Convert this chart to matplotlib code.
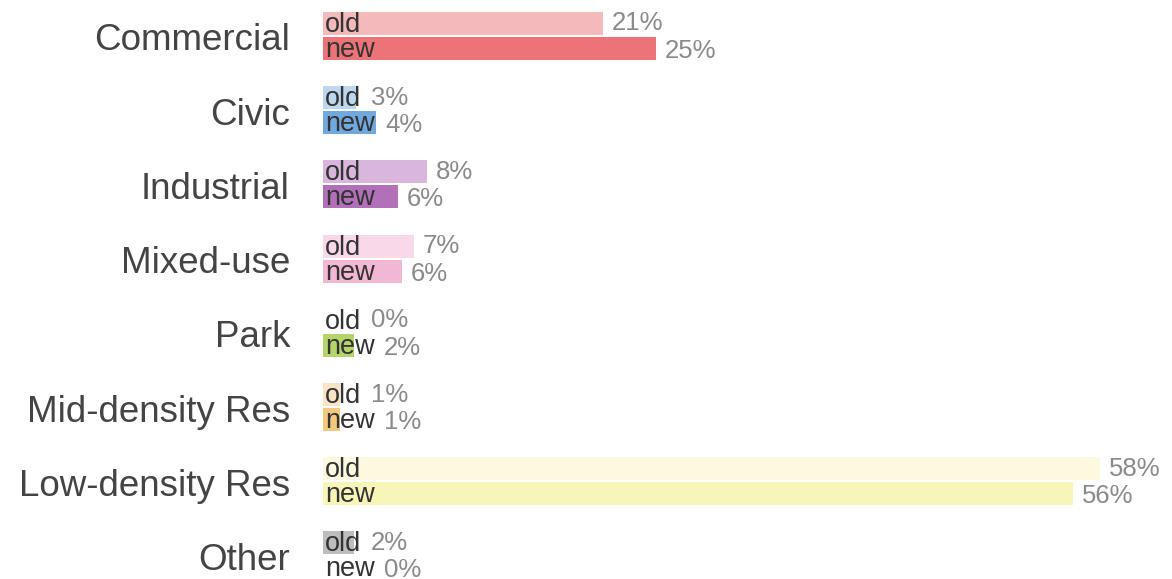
import matplotlib.pyplot as plt

# данные
categories = ['Commercial', 'Civic', 'Industrial', 'Mixed-use', 'Park',
              'Mid-density Res', 'Low-density Res', 'Other']
old_vals = [21.0, 2.5, 7.8, 6.8, 0.0, 1.3, 58.3, 2.3]
new_vals = [25.0, 4.0, 5.6, 5.9, 2.3, 1.3, 56.3, 0.0]
old_labels = ['21%', '3%', '8%', '7%', '0%', '1%', '58%', '2%']
new_labels = ['25%', '4%', '6%', '6%', '2%', '1%', '56%', '0%']
old_colors = ['#f4b9bb', '#bdd7ef', '#d9b7dd', '#f9d9e9', '#b6d46b', '#fbe4c6', '#fdf9e0', '#bdbdbd']
new_colors = ['#ec7377', '#70a9dd', '#b270b9', '#f2b7d3', '#b6d46b', '#f5c880', '#f8f5b8', '#bdbdbd']

px = 13.32   # пикселей на 1%
x0 = 323     # начало полос
W, H = 1172, 579

fig = plt.figure(figsize=(W / 100, H / 100), dpi=100)
ax = fig.add_axes([0, 0, 1, 1])
ax.set_xlim(-x0 / px, (W - x0) / px)
ax.set_ylim(H, 0)
ax.axis('off')

font = 'Liberation Sans'
row_step = 74.2
bar_h = 23
gap = 9 / px
old_text_end = (362 - x0) / px
new_text_end = (375 - x0) / px

for i, cat in enumerate(categories):
    c = 36 + row_step * i
    y_old = c - 12.5
    y_new = c + 12.5
    ax.barh(y_old, old_vals[i], height=bar_h, left=0, color=old_colors[i] if old_vals[i] > 0 else 'none')
    ax.barh(y_new, new_vals[i], height=bar_h, left=0, color=new_colors[i] if new_vals[i] > 0 else 'none')

    ax.text((290 - x0) / px, c + 5, cat, ha='right', va='center',
            fontsize=26.5, color='#444444', family=font)

    ax.text(0.15, y_old + 1.5, 'old', ha='left', va='center', fontsize=19.5, color='#333333', family=font)
    ax.text(0.15, y_new + 1.5, 'new', ha='left', va='center', fontsize=19.5, color='#333333', family=font)

    ax.text(max(old_vals[i], old_text_end) + gap, y_old, old_labels[i], ha='left', va='center',
            fontsize=18.5, color='#8a8a8a', family=font)
    ax.text(max(new_vals[i], new_text_end) + gap, y_new + 2.5, new_labels[i], ha='left', va='center',
            fontsize=18.5, color='#8a8a8a', family=font)

fig.savefig('out.png', dpi=100)
